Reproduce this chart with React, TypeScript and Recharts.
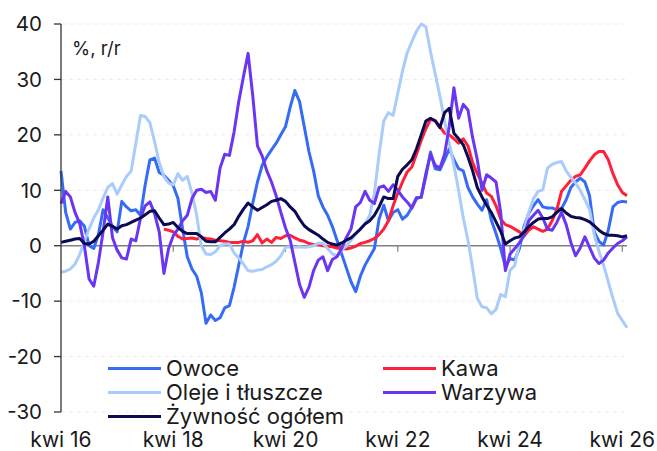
import React from 'react';
import { LineChart, Line, XAxis, YAxis, CartesianGrid, ReferenceLine } from 'recharts';

// miesiące od kwietnia 2016
const monthNames = ['sty', 'lut', 'mar', 'kwi', 'maj', 'cze', 'lip', 'sie', 'wrz', 'paź', 'lis', 'gru'];
const startYear = 2016;
const startMonth = 3;

const owoce = [
  13.5, 6.0, 3.0, 4.2, 4.5, 3.5, 0.0, -0.5, 2.0, 6.5, 5.0, 3.5, 2.5, 8.0, 7.0, 6.3, 6.5, 5.5, 11.0, 15.5,
  15.8, 13.2, 12.7, 11.8, 10.8, 8.5, 3.0, -2.0, -4.2, -5.5,
  -8.5, -14.0, -12.5, -13.5, -13.0, -11.2, -10.8, -7.5, -3.5, 0.5, 3.5, 7.7, 11.5, 14.5, 16.0, 17.3, 18.5,
  20.0, 21.5, 25.0, 28.0, 26.0, 21.5, 17.0, 13.5, 9.0, 7.0, 5.5, 3.5,
  1.0, -1.5, -4.0, -6.5, -8.3, -5.5, -3.5, -2.0, -0.5, 4.8, 7.3, 4.5, 6.0, 6.5, 4.8, 5.5, 6.9, 8.7, 8.7,
  12.5, 16.9, 13.9, 13.7, 15.5, 17.5, 15.5, 13.9, 13.5, 10.5, 8.8,
  7.5, 6.4, 8.3, 4.6, 2.2, -0.5, -3.8, -2.3, -2.6, -0.5, 3.5, 5.8, 7.2, 8.3, 7.0, 6.8, 6.8, 6.5, 6.7, 8.3,
  10.5, 11.5, 12.2, 11.5, 9.0, 2.5, 0.8, 0.1, 2.8, 7.0, 7.8, 8.0, 7.9,
];

const oleje = [
  -4.8, -4.6, -4.2, -3.3, -1.6, 0.8, 3.0, 5.0, 6.5, 8.6, 10.5, 11.2, 9.3, 11.0, 12.5, 13.5, 18.5, 23.5, 23.3,
  22.2, 18.8, 15.0, 12.5, 11.3, 11.0, 13.0, 11.8, 12.5, 9.5, 5.5,
  0.0, -1.5, -1.6, -1.1, 0.0, 0.3, 0.3, -1.3, -2.2, -3.3, -4.5, -4.6, -4.4, -4.3, -3.8, -3.4, -2.8, -1.8,
  -0.3, -0.2, -0.3, -0.2, -0.3, -0.2, 0.0, 0.5, 0.4, -0.5, -1.5,
  -1.8, -0.8, 0.0, 1.0, 2.0, 3.0, 4.0, 5.5, 9.5, 16.5, 22.5, 24.0, 23.5, 27.5, 31.5, 34.8, 36.8, 38.7, 40.0,
  39.5, 35.0, 31.0, 27.0, 22.5, 18.5, 14.5, 10.0, 5.0, 1.0, -4.0,
  -9.5, -11.0, -11.2, -12.3, -11.5, -8.8, -9.2, -4.4, -3.6, 0.5, 3.0, 6.0, 8.5, 9.8, 10.1, 14.0, 14.7, 15.0,
  15.2, 13.5, 12.3, 11.3, 10.0, 8.3, 6.5, 2.0, -1.0, -3.5, -6.5, -9.5, -12.2, -13.5, -14.8,
];

// Kawa zaczyna się od lutego 2018 (indeks 22)
const kawaStart = 22;
const kawa = [
  3.0, 2.8, 2.5, 1.7, 1.2, 1.3, 1.4, 1.2,
  1.5, 1.3, 1.2, 1.0, 0.9, 0.8, 0.6, 0.6, 0.6, 0.8, 0.6, 0.9, 2.0, 0.5, 1.2, 0.6, 1.5, 1.3, 1.8, 1.9, 1.4,
  1.0, 0.8, 0.4, 0.2, 0.2, 0.0, -0.1, -0.2,
  -0.4, -0.5, -0.6, -0.4, -0.1, 0.4, 0.6, 0.9, 1.3, 2.0, 3.0, 4.5, 7.2, 9.5, 11.5, 13.3, 14.2, 16.5, 19.0,
  21.1, 22.8, 22.6, 21.5, 20.3, 20.0, 19.3, 18.5, 19.3, 18.0, 15.0,
  13.0, 11.3, 9.5, 8.9, 7.2, 4.8, 3.8, 3.5, 3.0, 2.5, 1.8, 2.8, 3.4, 3.0, 2.6, 3.0, 4.5, 6.5, 9.8, 10.8,
  11.8, 12.5, 12.8, 14.0, 15.3, 16.4, 17.0, 17.0, 15.5, 13.0, 11.0, 9.6, 9.0,
];

const warzywa = [
  7.6, 9.8, 8.8, 6.0, 4.0, 0.0, -6.0, -7.3, -3.0, 2.5, 8.8, 1.5, -0.8, -2.2, -2.4, 1.2, 0.9, 5.0, 7.2, 7.9,
  5.8, 2.5, -5.0, -0.5, 1.8, 3.0, 4.5, 5.5, 8.5, 10.0,
  10.2, 9.6, 9.8, 8.2, 14.0, 16.5, 16.3, 20.5, 26.0, 30.5, 34.7, 27.0, 18.0, 16.2, 13.5, 11.5, 9.0, 6.0,
  3.2, 1.0, -3.0, -7.0, -9.3, -7.5, -4.5, -2.6, -2.0, -4.5, -2.5,
  -2.0, -0.5, 1.5, 3.0, 7.0, 7.8, 9.8, 8.2, 7.6, 10.5, 10.8, 9.8, 11.0, 10.0, 8.8, 7.9, 6.8, 8.5, 8.8,
  13.0, 16.5, 14.5, 14.0, 16.5, 21.5, 28.5, 23.0, 25.5, 24.5, 19.5,
  15.5, 10.0, 12.8, 12.2, 11.5, 6.0, -4.5, -1.5, -0.5, 0.5, 1.8, 4.5, 5.5, 6.4, 5.0, 3.0, 2.8, 4.2, 6.0,
  3.8, 0.6, -1.8, -0.4, 1.6, -0.3, -2.2, -3.2, -2.6, -1.3, -0.4, 0.4, 0.9, 1.6,
];

const zywnosc = [
  0.6, 0.8, 1.0, 1.2, 1.3, 0.4, 0.3, 0.8, 1.8, 2.8, 3.9, 3.5, 3.0, 3.6, 3.8, 4.2, 4.6, 5.0, 5.6, 6.2, 6.3,
  5.0, 3.8, 3.9, 4.2, 3.3, 2.6, 2.2, 2.2, 2.2,
  1.6, 0.8, 0.7, 0.7, 1.5, 2.3, 3.0, 3.8, 5.3, 6.6, 7.7, 7.0, 6.4, 6.9, 7.4, 8.0, 8.2, 8.5, 8.0, 7.0, 6.2,
  4.8, 3.6, 2.9, 2.4, 1.9, 1.2, 0.6, 0.3,
  0.1, 0.5, 1.0, 1.4, 2.2, 3.0, 3.9, 4.5, 5.5, 7.0, 8.8, 8.5, 8.5, 12.5, 13.8, 14.6, 15.5, 17.5, 20.0,
  22.5, 23.0, 22.5, 21.3, 24.0, 24.8, 20.3, 19.3, 18.2, 16.0, 13.5,
  10.5, 8.8, 7.3, 6.0, 4.3, 2.6, 0.3, 0.9, 1.4, 1.6, 2.5, 3.4, 4.2, 4.8, 4.9, 4.9, 5.2, 6.0, 6.7, 5.9, 5.3,
  5.1, 5.0, 4.7, 4.3, 3.6, 2.8, 2.2, 1.9, 1.9, 1.8, 1.6, 1.8,
];

const xTicks = [0, 24, 48, 72, 96, 120];
const yTicks = [-30, -20, -10, 0, 10, 20, 30, 40];

const periods = owoce.map((_, i) => {
  const m = startMonth + i;
  const year = startYear + Math.floor(m / 12);
  return `${monthNames[m % 12]} ${String(year).slice(2)}`;
});

const data = periods.map((okres, i) => ({
  i,
  okres,
  owoce: owoce[i],
  kawa: i >= kawaStart ? kawa[i - kawaStart] : null,
  oleje: oleje[i],
  warzywa: warzywa[i],
  zywnosc: zywnosc[i],
}));

const series = [
  { key: 'owoce', name: 'Owoce', color: '#366cf5' },
  { key: 'kawa', name: 'Kawa', color: '#ff2139' },
  { key: 'oleje', name: 'Oleje i tłuszcze', color: '#a9ccfa' },
  { key: 'warzywa', name: 'Warzywa', color: '#6a36f2' },
  { key: 'zywnosc', name: 'Żywność ogółem', color: '#0b0a52' },
];

const font = 'Inter, "Noto Sans", sans-serif';
const xTickStyle = { fontSize: 21, fill: '#1a1a1a', fontFamily: font };
const yTickStyle = { fontSize: 20.5, fill: '#1a1a1a', fontFamily: font };

const ChartLegend = () => (
  <div
    style={{
      position: 'absolute',
      left: 108,
      top: 356,
      display: 'grid',
      gridTemplateColumns: '275px 200px',
      fontFamily: font,
      fontSize: 22,
      color: '#1a1a1a',
    }}>
    {series.map((s) => (
      <div key={s.key} style={{ display: 'flex', alignItems: 'center', height: 24 }}>
        <span style={{ display: 'inline-block', width: 53, height: 3, background: s.color, marginRight: 5 }} />
        <span style={{ lineHeight: '24px' }}>{s.name}</span>
      </div>
    ))}
  </div>
);

export default function App() {
  return (
    <div style={{ position: 'absolute', left: 0, top: 0, width: 657, height: 451, background: '#fff' }}>
      <LineChart width={657} height={451} data={data} margin={{ top: 24, right: 30, left: 0, bottom: 0 }}>
        <CartesianGrid vertical={false} stroke="#ececec" strokeDasharray="4 4" />
        <XAxis
          type="number"
          dataKey="i"
          domain={[0, 121]}
          ticks={xTicks}
          tickFormatter={(v) => periods[v]}
          axisLine={false}
          tickLine={false}
          tickSize={6}
          tickMargin={14}
          height={39}
          tick={xTickStyle}
          interval={0}
        />
        <YAxis
          domain={[-30, 40]}
          ticks={yTicks}
          width={61}
          tickSize={7}
          tickMargin={12}
          axisLine={{ stroke: '#333', strokeWidth: 1.3 }}
          tickLine={{ stroke: '#333', strokeWidth: 1.3 }}
          tick={yTickStyle}
          interval={0}
        />
        <ReferenceLine y={0} stroke="#808080" strokeWidth={1.5} />
        {xTicks.slice(1).map((t) => (
          <ReferenceLine
            key={t}
            segment={[{ x: t, y: 0 }, { x: t, y: -1.1 }]}
            stroke="#808080"
            strokeWidth={1.2}
          />
        ))}
        {series.map((s) => (
          <Line
            key={s.key}
            type="linear"
            dataKey={s.key}
            name={s.name}
            stroke={s.color}
            strokeWidth={3}
            dot={false}
            activeDot={false}
            strokeLinejoin="round"
            connectNulls={false}
            isAnimationActive={false}
          />
        ))}
      </LineChart>
      <div style={{ position: 'absolute', left: 72, top: 39, fontFamily: font, fontSize: 18.5, lineHeight: '18px', color: '#1a1a1a' }}>
        %, r/r
      </div>
      <ChartLegend />
    </div>
  );
}
